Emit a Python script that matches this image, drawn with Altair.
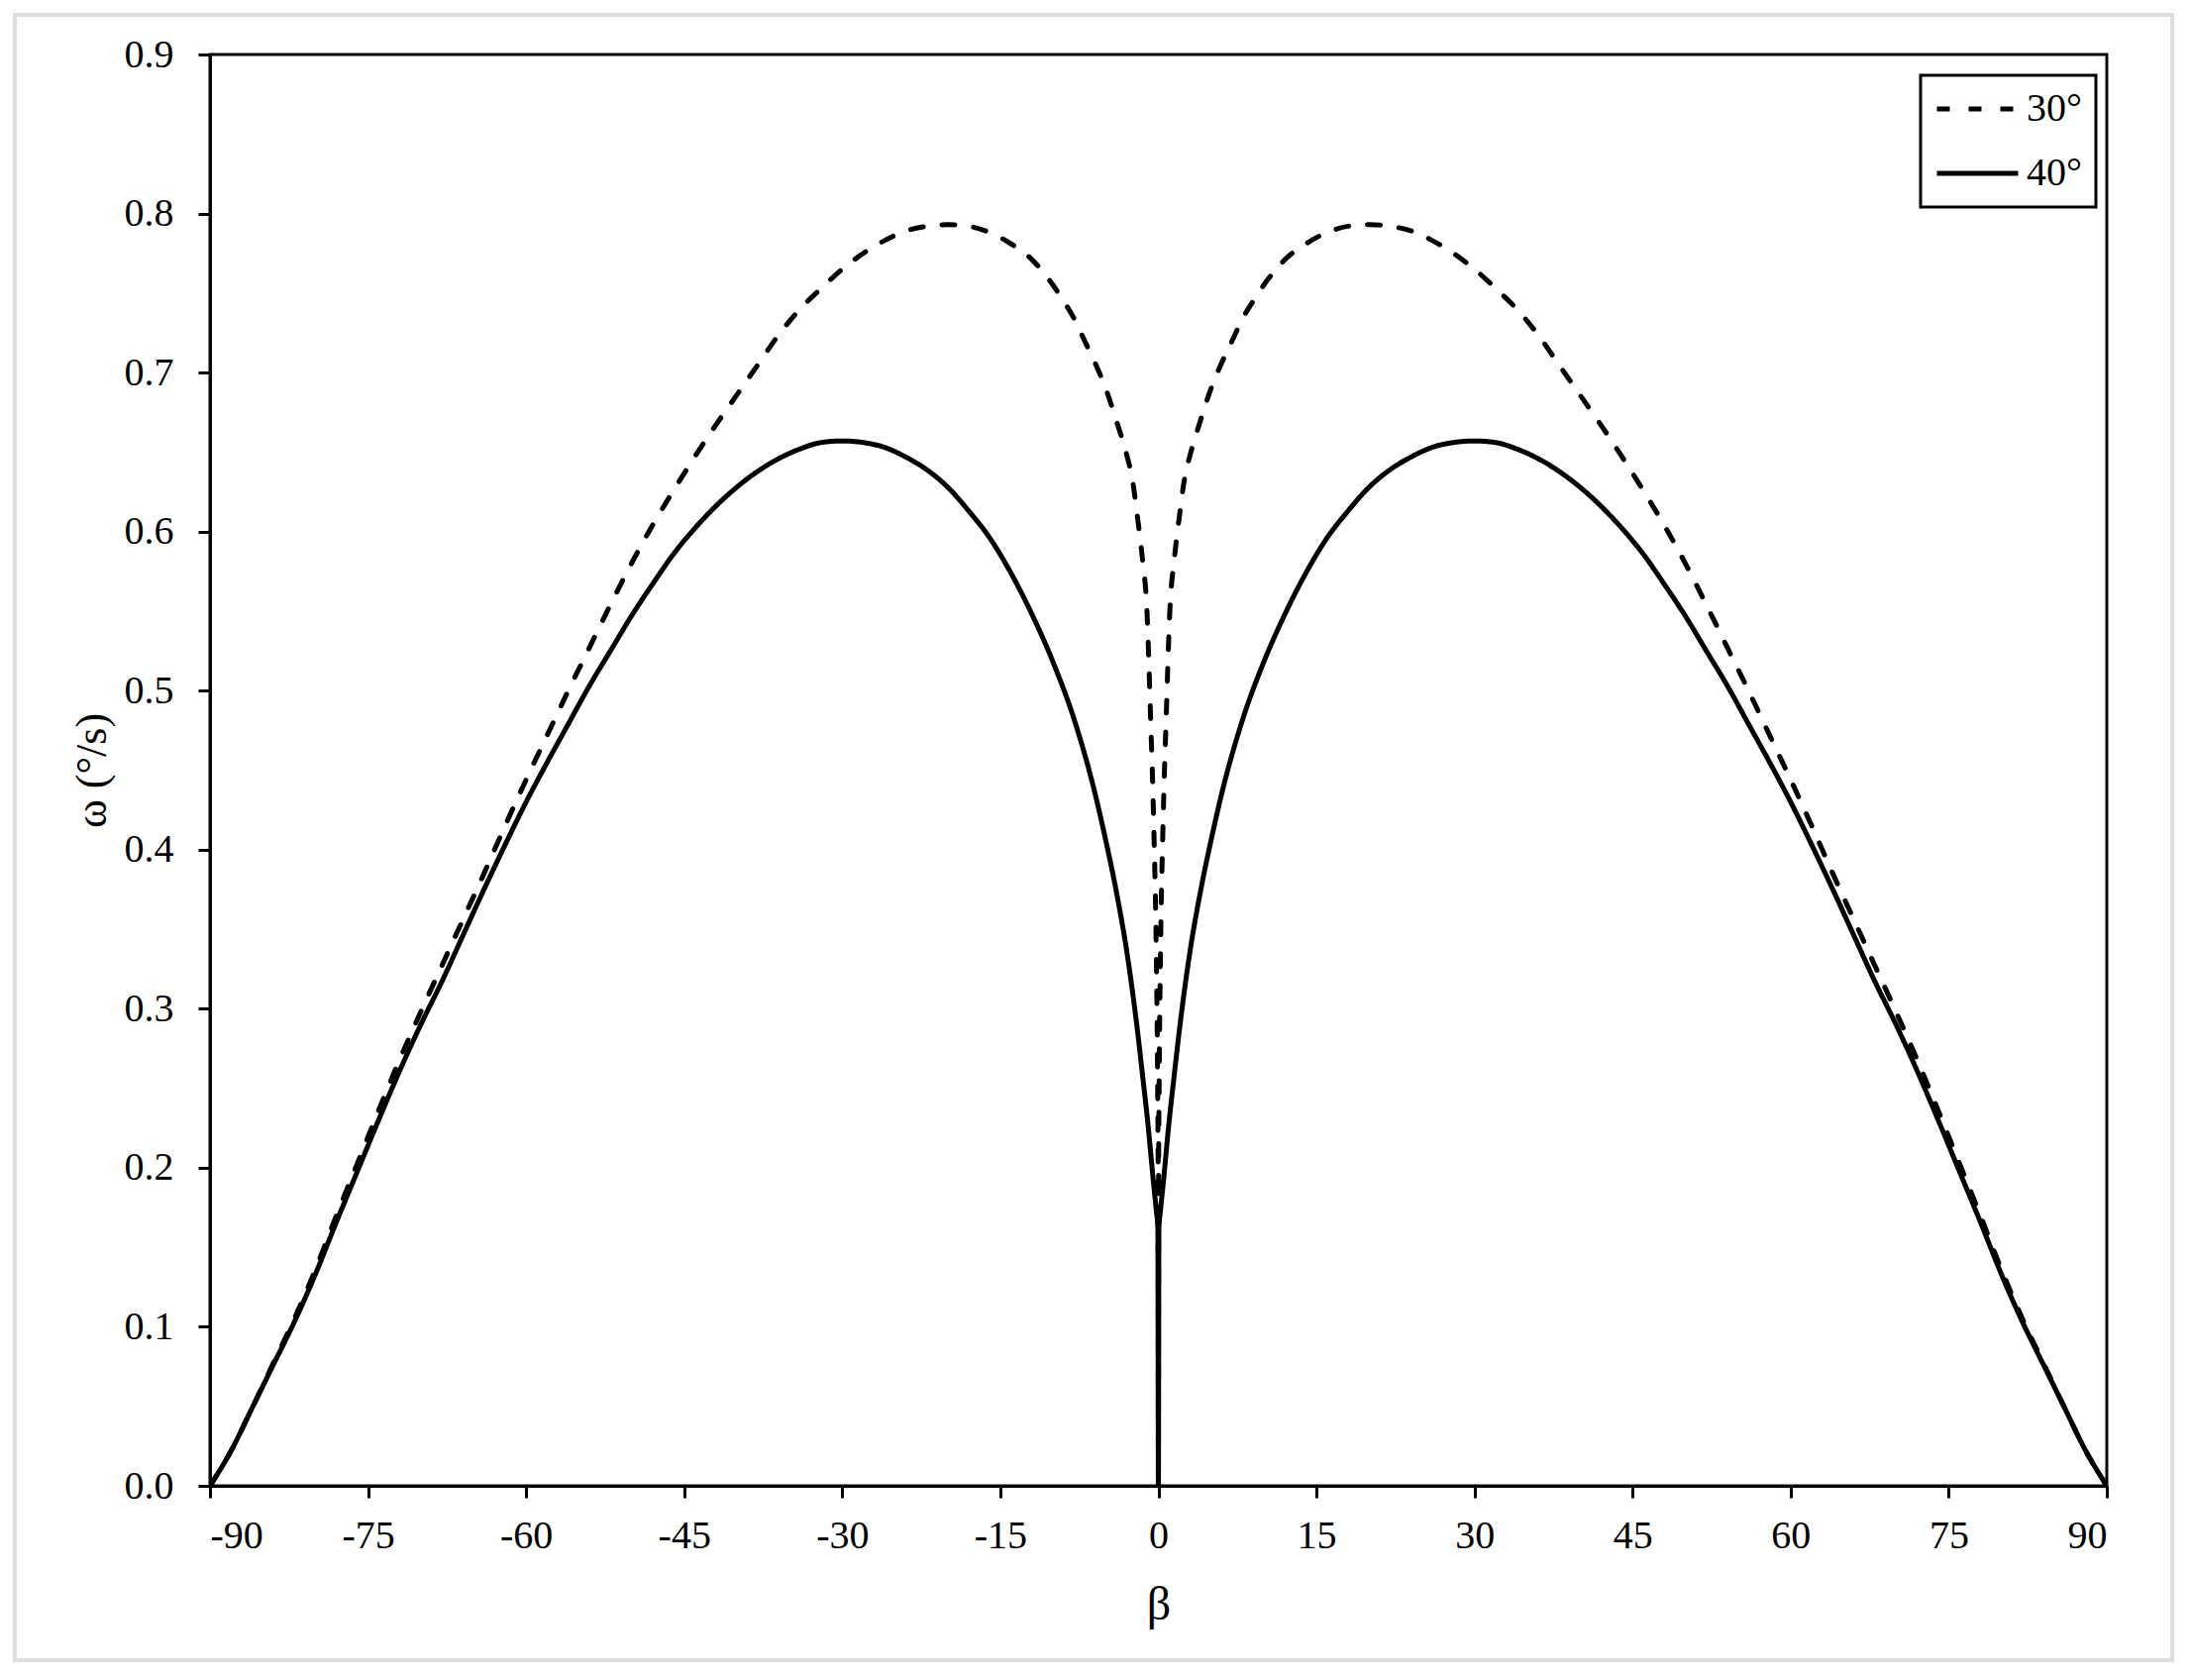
import altair as alt
import pandas as pd

# ---- data ----
beta_30 = [-90, -88, -86, -84, -82, -80, -78, -76, -74, -72, -70, -68, -66, -64, -62, -60,
           -58, -56, -54, -52, -50, -48, -46, -44, -42, -40, -38, -36, -34, -32, -30, -28,
           -26, -24, -22, -20, -18, -16, -14, -12, -10, -9, -8, -7, -6, -5, -4, -3, -2.5,
           -2, -1.5, -1.1, -0.75, -0.42, -0.2, -0.08, -0.02, 0,
           0.02, 0.08, 0.2, 0.42, 0.75, 1.1, 1.5, 2, 2.5, 3, 4, 5, 6, 7, 8, 9, 10, 12, 14,
           16, 18, 20, 22, 24, 26, 28, 30, 32, 34, 36, 38, 40, 42, 44, 46, 48, 50, 52, 54,
           56, 58, 60, 62, 64, 66, 68, 70, 72, 74, 76, 78, 80, 82, 84, 86, 88, 90]
omega_30 = [0.000, 0.022, 0.049, 0.077, 0.105, 0.136, 0.170, 0.203, 0.236, 0.268, 0.298, 0.327,
            0.356, 0.385, 0.415, 0.444, 0.472, 0.500, 0.527, 0.554, 0.580, 0.604, 0.626, 0.647,
            0.667, 0.686, 0.705, 0.724, 0.740, 0.753, 0.765, 0.775, 0.783, 0.789, 0.792, 0.793,
            0.792, 0.788, 0.781, 0.771, 0.755, 0.745, 0.734, 0.720, 0.706, 0.690, 0.670, 0.648,
            0.634, 0.610, 0.582, 0.552, 0.485, 0.410, 0.335, 0.260, 0.190, 0.000,
            0.190, 0.260, 0.335, 0.410, 0.485, 0.552, 0.582, 0.610, 0.634, 0.648, 0.670, 0.690,
            0.706, 0.720, 0.734, 0.745, 0.755, 0.771, 0.781, 0.788, 0.792, 0.793, 0.792, 0.789,
            0.783, 0.775, 0.765, 0.753, 0.740, 0.724, 0.705, 0.686, 0.667, 0.647, 0.626, 0.604,
            0.580, 0.554, 0.527, 0.500, 0.472, 0.444, 0.415, 0.385, 0.356, 0.327, 0.298, 0.268,
            0.236, 0.203, 0.170, 0.136, 0.105, 0.077, 0.049, 0.022, 0.000]

beta_40 = [-90, -88, -86, -84, -82, -80, -78, -76, -74, -72, -70, -68, -66, -64, -62, -60,
           -58, -56, -54, -52, -50, -48, -46, -44, -42, -40, -38, -36, -34, -32, -30, -28,
           -26, -24, -22, -20, -18, -16, -14, -12, -10, -8, -6, -5, -4, -3, -2, -1.5, -1,
           -0.5, -0.2, -0.05, 0,
           0.05, 0.2, 0.5, 1, 1.5, 2, 3, 4, 5, 6, 8, 10, 12, 14, 16, 18, 20, 22, 24, 26, 28,
           30, 32, 34, 36, 38, 40, 42, 44, 46, 48, 50, 52, 54, 56, 58, 60, 62, 64, 66, 68, 70,
           72, 74, 76, 78, 80, 82, 84, 86, 88, 90]
omega_40 = [0.000, 0.022, 0.049, 0.076, 0.103, 0.133, 0.166, 0.198, 0.230, 0.261, 0.290, 0.317,
            0.346, 0.375, 0.403, 0.430, 0.455, 0.479, 0.503, 0.525, 0.547, 0.567, 0.586, 0.602,
            0.616, 0.628, 0.638, 0.646, 0.652, 0.656, 0.657, 0.656, 0.653, 0.647, 0.639, 0.628,
            0.613, 0.596, 0.574, 0.548, 0.518, 0.482, 0.435, 0.406, 0.374, 0.336, 0.287, 0.258,
            0.228, 0.193, 0.173, 0.162, 0.000,
            0.162, 0.173, 0.193, 0.228, 0.258, 0.287, 0.336, 0.374, 0.406, 0.435, 0.482, 0.518,
            0.548, 0.574, 0.596, 0.613, 0.628, 0.639, 0.647, 0.653, 0.656, 0.657, 0.656, 0.652,
            0.646, 0.638, 0.628, 0.616, 0.602, 0.586, 0.567, 0.547, 0.525, 0.503, 0.479, 0.455,
            0.430, 0.403, 0.375, 0.346, 0.317, 0.290, 0.261, 0.230, 0.198, 0.166, 0.133, 0.103,
            0.076, 0.049, 0.022, 0.000]

series_names = ["30°", "40°"]
x_ticks = [-90, -75, -60, -45, -30, -15, 0, 15, 30, 45, 60, 75, 90]
y_ticks = [0.0, 0.1, 0.2, 0.3, 0.4, 0.5, 0.6, 0.7, 0.8, 0.9]

df = pd.concat([
    pd.DataFrame({"beta": beta_30, "omega": omega_30, "series": series_names[0], "ord": range(len(beta_30))}),
    pd.DataFrame({"beta": beta_40, "omega": omega_40, "series": series_names[1], "ord": range(len(beta_40))}),
], ignore_index=True)

FONT = "Liberation Serif"
W, H = 1915, 1445

lines = alt.Chart(df).mark_line(strokeWidth=5, color="black", strokeCap="round",
                                interpolate="monotone", clip=True).encode(
    x=alt.X("beta:Q",
            scale=alt.Scale(domain=[-90, 90], nice=False, zero=False),
            axis=alt.Axis(values=x_ticks, labelExpr="toString(datum.value)",
                          title="β", titleFontSize=48, titlePadding=26, labelPadding=18)),
    y=alt.Y("omega:Q",
            scale=alt.Scale(domain=[0, 0.9], nice=False),
            axis=alt.Axis(values=y_ticks, format=".1f",
                          title="ω (°/s)", titleFontSize=44, titlePadding=10, labelPadding=25)),
    strokeDash=alt.StrokeDash("series:N",
                              scale=alt.Scale(domain=series_names, range=[[13, 19], [1, 0]]),
                              legend=alt.Legend(title=None, orient="none", legendX=1727, legendY=21,
                                                symbolType="stroke", symbolSize=6724,
                                                symbolStrokeWidth=5, symbolStrokeColor="black",
                                                clipHeight=40, rowPadding=25, labelOffset=6,
                                                labelFont=FONT, labelFontSize=40, labelColor="black",
                                                padding=14, strokeColor="black")),
    order="ord:Q",
)

frame = alt.Chart(alt.Data(values=[{"k": 1}])).mark_rect(
    fillOpacity=0, stroke="#dedede", strokeWidth=4
).encode(
    x=alt.value(-197), x2=alt.value(1981), y=alt.value(-40), y2=alt.value(1621)
)

chart = alt.layer(frame, lines).properties(
    width=W, height=H,
    padding={"left": 204, "top": 47, "right": 74, "bottom": 185},
    autosize=alt.AutoSizeParams(type="none"),
    background="white",
).configure_view(
    stroke="black", strokeWidth=3
).configure_axis(
    grid=False,
    domainColor="black", domainWidth=3,
    tickColor="black", tickWidth=3, tickSize=12,
    labelFont=FONT, labelFontSize=40, labelColor="black",
    titleFont=FONT, titleColor="black", titleFontWeight="normal",
).configure_legend(
    strokeWidth=3
)

chart.save("out.html", embed_options={"renderer": "svg", "actions": False})
